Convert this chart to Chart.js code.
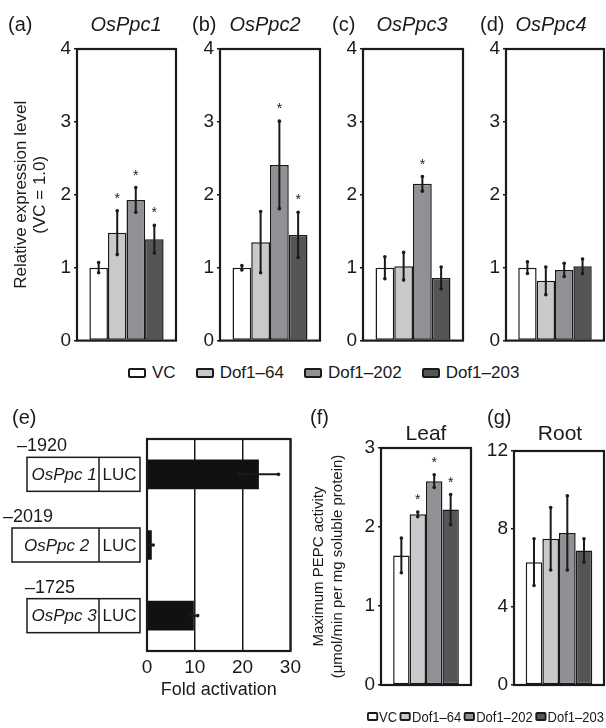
<!DOCTYPE html>
<html>
<head>
<meta charset="utf-8">
<script src="https://cdn.jsdelivr.net/npm/chart.js@4.4.1/dist/chart.umd.min.js"></script>
<style>
  body { margin: 0; background: #fff; }
  #fig { position: relative; width: 606px; height: 728px; overflow: hidden;
         font-family: "Liberation Sans", Arial, sans-serif; color: #1a1a1a; }
  #fig canvas { position: absolute; }
  .t { position: absolute; white-space: nowrap; }
  .legend { position: absolute; display: flex; align-items: center; white-space: nowrap; transform-origin: left center; }
  .legend span.box { display: inline-block; box-sizing: border-box; border: 2px solid #1a1a1a; border-radius: 2px; }
</style>
</head>
<body>
<div id="fig"></div>
<script>
// groups shared by every bar panel
const groups = ['VC', 'Dof1–64', 'Dof1–202', 'Dof1–203'];
const groupColors = ['#ffffff', '#c8c9cb', '#909195', '#545557'];

// (a)-(d) relative expression, VC = 1.0
const genes = ['OsPpc1', 'OsPpc2', 'OsPpc3', 'OsPpc4'];
const ppc1Mean = [1.00, 1.48, 1.93, 1.39];
const ppc1Err  = [0.07, 0.30, 0.17, 0.19];
const ppc1Sig  = [false, true, true, true];
const ppc2Mean = [1.00, 1.35, 2.41, 1.45];
const ppc2Err  = [0.03, 0.42, 0.60, 0.31];
const ppc2Sig  = [false, false, true, true];
const ppc3Mean = [1.00, 1.02, 2.15, 0.86];
const ppc3Err  = [0.15, 0.19, 0.10, 0.15];
const ppc3Sig  = [false, false, true, false];
const ppc4Mean = [1.00, 0.82, 0.97, 1.02];
const ppc4Err  = [0.08, 0.19, 0.09, 0.10];
const ppc4Sig  = [false, false, false, false];
const exprTicks = [0, 1, 2, 3, 4];

// (e) transient assay
const constructs = ['OsPpc 1', 'OsPpc 2', 'OsPpc 3'];
const promoterLen = ['–1920', '–2019', '–1725'];
const foldMean = [23.4, 1.0, 9.8];
const foldErr  = [4.1, 0.3, 0.8];
const foldTicks = [0, 10, 20, 30];

// (f) leaf, (g) root PEPC activity
const leafMean = [1.64, 2.16, 2.58, 2.22];
const leafErr  = [0.22, 0.03, 0.08, 0.19];
const leafSig  = [false, true, true, true];
const leafTicks = [0, 1, 2, 3];
const rootMean = [6.3, 7.5, 7.8, 6.9];
const rootErr  = [1.2, 1.6, 1.9, 0.6];
const rootSig  = [false, false, false, false];
const rootTicks = [0, 4, 8, 12];

const FONT = '"Liberation Sans", Arial, sans-serif';
const INK = '#1a1a1a';
Chart.defaults.font.family = FONT;
Chart.defaults.color = INK;

const fig = document.getElementById('fig');

function place(id, x, y, w, h) {
  const c = document.createElement('canvas');
  c.id = id;
  c.width = w; c.height = h;
  c.style.left = x + 'px'; c.style.top = y + 'px';
  c.style.width = w + 'px'; c.style.height = h + 'px';
  fig.appendChild(c);
  return c;
}

// text placed by the centre of its capitals
function addText(str, x, y, size, extra = {}) {
  const d = document.createElement('div');
  d.className = 't';
  d.textContent = str;
  d.style.fontSize = size + 'px';
  d.style.lineHeight = size + 'px';
  d.style.top = (y - 0.49 * size) + 'px';
  if (extra.italic) d.style.fontStyle = 'italic';
  if (extra.center) { d.style.left = x + 'px'; d.style.transform = 'translateX(-50%)'; }
  else d.style.left = x + 'px';
  fig.appendChild(d);
  return d;
}

function addLegend(x, y, size, boxW, boxH, gap, inner, squeeze = 1) {
  const l = document.createElement('div');
  l.className = 'legend';
  l.style.left = x + 'px';
  l.style.top = (y - 0.6 * size) + 'px';
  l.style.fontSize = size + 'px';
  l.style.lineHeight = (1.2 * size) + 'px';
  l.style.gap = gap + 'px';
  if (squeeze !== 1) l.style.transform = 'scaleX(' + squeeze + ')';
  groups.forEach((g, i) => {
    const item = document.createElement('span');
    item.style.display = 'flex'; item.style.alignItems = 'center';
    const b = document.createElement('span');
    b.className = 'box';
    b.style.width = boxW + 'px'; b.style.height = boxH + 'px';
    b.style.background = groupColors[i];
    b.style.marginRight = inner + 'px';
    item.appendChild(b);
    item.appendChild(document.createTextNode(g));
    l.appendChild(item);
  });
  fig.appendChild(l);
}

const framePlugin = {
  id: 'frame',
  afterDatasetsDraw(chart) {
    const { ctx, chartArea: a } = chart;
    ctx.save();
    ctx.strokeStyle = INK;
    ctx.lineWidth = 2.2;
    ctx.strokeRect(a.left, a.top, a.right - a.left, a.bottom - a.top);
    ctx.restore();
  }
};

const errorPlugin = {
  id: 'errorBars',
  afterDatasetsDraw(chart) {
    const ctx = chart.ctx;
    const horiz = chart.options.indexAxis === 'y';
    const vs = horiz ? chart.scales.x : chart.scales.y;
    ctx.save();
    ctx.strokeStyle = INK; ctx.fillStyle = INK; ctx.lineWidth = 2;
    chart.data.datasets.forEach((ds, di) => {
      chart.getDatasetMeta(di).data.forEach((bar, i) => {
        const v = ds.data[i], e = ds.err[i];
        const p1 = vs.getPixelForValue(v - e), p2 = vs.getPixelForValue(v + e);
        const pts = horiz ? [[p1, bar.y], [p2, bar.y]] : [[bar.x, p1], [bar.x, p2]];
        ctx.beginPath();
        ctx.moveTo(pts[0][0], pts[0][1]);
        ctx.lineTo(pts[1][0], pts[1][1]);
        ctx.stroke();
        pts.forEach(p => { ctx.beginPath(); ctx.arc(p[0], p[1], 1.8, 0, Math.PI * 2); ctx.fill(); });
        if (ds.sig && ds.sig[i]) {
          ctx.font = '14px ' + FONT;
          ctx.textAlign = 'center';
          ctx.textBaseline = 'alphabetic';
          ctx.fillText('*', bar.x, p2 - 8);
        }
      });
    });
    ctx.restore();
  }
};

function barPanel(id, box, axisW, means, errs, sigs, ticks, pct, yTitle) {
  const c = place(id, box.x, box.y, box.w, box.h);
  return new Chart(c, {
    type: 'bar',
    data: {
      labels: [''],
      datasets: groups.map((g, i) => ({
        label: g,
        data: [means[i]],
        err: [errs[i]],
        sig: [sigs[i]],
        backgroundColor: groupColors[i],
        borderColor: INK,
        borderWidth: 1.5,
        borderSkipped: false,
        categoryPercentage: pct,
        barPercentage: 1
      }))
    },
    options: {
      responsive: false,
      animation: false,
      events: [],
      layout: { padding: box.pad },
      plugins: { legend: { display: false }, tooltip: { enabled: false } },
      scales: {
        x: { display: false },
        y: {
          min: ticks[0],
          max: ticks[ticks.length - 1],
          afterFit: s => { s.width = axisW; },
          afterBuildTicks: s => { s.ticks = ticks.map(v => ({ value: v })); },
          ticks: { font: { size: 19 }, padding: 3, color: INK },
          grid: { drawOnChartArea: false, tickLength: 3, color: INK, lineWidth: 1.5 },
          border: { display: false },
          title: yTitle || { display: false }
        }
      }
    },
    plugins: [errorPlugin, framePlugin]
  });
}

// ---- (a)-(d)
const exprTitle = {
  display: true,
  text: ['Relative expression level', '(VC = 1.0)'],
  font: { size: 17, lineHeight: 1.12 },
  padding: { top: 11.5, bottom: 0 },
  color: INK
};
barPanel('pa', { x: 0,   y: 0, w: 180, h: 355, pad: { top: 49, right: 4, bottom: 14, left: 0 } }, 77, ppc1Mean, ppc1Err, ppc1Sig, exprTicks, 0.75, exprTitle);
barPanel('pb', { x: 190, y: 0, w: 134, h: 355, pad: { top: 49, right: 4, bottom: 14, left: 0 } }, 30, ppc2Mean, ppc2Err, ppc2Sig, exprTicks, 0.75);
barPanel('pc', { x: 333, y: 0, w: 134, h: 355, pad: { top: 49, right: 4, bottom: 14, left: 0 } }, 30, ppc3Mean, ppc3Err, ppc3Sig, exprTicks, 0.75);
barPanel('pd', { x: 476, y: 0, w: 130, h: 355, pad: { top: 49, right: 2, bottom: 14, left: 0 } }, 30, ppc4Mean, ppc4Err, ppc4Sig, exprTicks, 0.75);

const panelTags = ['(a)', '(b)', '(c)', '(d)'];
const tagX = [8, 192, 332, 480];
const geneX = [126, 265, 412, 551];
genes.forEach((g, i) => {
  addText(panelTags[i], tagX[i], 24, 20);
  addText(g, geneX[i], 24, 20, { italic: true, center: true });
});
addLegend(128, 373, 17, 18, 10, 20, 6);

// ---- (e)
const boxLeft = [27, 12, 27];
const lenLeft = [17, 3, 25];
const constructPlugin = {
  id: 'constructs',
  afterDraw(chart) {
    const { ctx } = chart;
    const ys = chart.scales.y;
    ctx.save();
    ctx.strokeStyle = INK; ctx.fillStyle = INK; ctx.lineWidth = 1.5;
    ctx.textBaseline = 'middle';
    constructs.forEach((name, i) => {
      const cy = ys.getPixelForValue(i);
      const l = boxLeft[i], top = cy - 17, div = 99, r = 140;
      ctx.strokeRect(l, top, r - l, 34);
      ctx.beginPath(); ctx.moveTo(div, top); ctx.lineTo(div, top + 34); ctx.stroke();
      ctx.textAlign = 'center';
      ctx.font = 'italic 17px ' + FONT;
      ctx.fillText(name, (l + div) / 2 + 1, cy + 1);
      ctx.font = '17px ' + FONT;
      ctx.fillText('LUC', (div + r) / 2, cy + 1);
      ctx.textAlign = 'left';
      ctx.font = '18px ' + FONT;
      ctx.fillText(promoterLen[i], lenLeft[i], top - 11);
    });
    ctx.restore();
  }
};
new Chart(place('pe', 0, 400, 306, 305), {
  type: 'bar',
  data: {
    labels: constructs,
    datasets: [{
      data: foldMean,
      err: foldErr,
      backgroundColor: '#111111',
      borderWidth: 0,
      categoryPercentage: 1,
      barPercentage: 0.42
    }]
  },
  options: {
    indexAxis: 'y',
    responsive: false,
    animation: false,
    events: [],
    layout: { padding: { top: 39, right: 13, bottom: 0, left: 0 } },
    plugins: { legend: { display: false }, tooltip: { enabled: false } },
    scales: {
      y: {
        afterFit: s => { s.width = 147; },
        ticks: { display: false },
        grid: { display: false },
        border: { display: false }
      },
      x: {
        min: foldTicks[0],
        max: foldTicks[foldTicks.length - 1],
        afterFit: s => { s.height = 54; },
        afterBuildTicks: s => { s.ticks = foldTicks.map(v => ({ value: v })); },
        ticks: { font: { size: 19 }, padding: 5, color: INK },
        grid: { color: INK, lineWidth: 1.5, drawTicks: false },
        border: { display: false },
        title: { display: true, text: 'Fold activation', font: { size: 18 }, padding: { top: 0, bottom: 4 }, color: INK }
      }
    }
  },
  plugins: [framePlugin, errorPlugin, constructPlugin]
});
addText('(e)', 12, 417, 20);

// ---- (f), (g)
const pepcTitle = {
  display: true,
  text: ['Maximum PEPC activity', '(μmol/min per mg soluble protein)'],
  font: { size: 15, lineHeight: 1.27 },
  padding: { top: 9.5, bottom: 0 },
  color: INK
};
barPanel('pf', { x: 300, y: 400, w: 175, h: 300, pad: { top: 48, right: 4, bottom: 15, left: 0 } }, 81, leafMean, leafErr, leafSig, leafTicks, 0.73, pepcTitle);
barPanel('pg', { x: 478, y: 400, w: 128, h: 300, pad: { top: 51, right: 2, bottom: 15, left: 0 } }, 36, rootMean, rootErr, rootSig, rootTicks, 0.74);
addText('(f)', 310, 417, 20);
addText('Leaf', 426, 432, 21, { center: true });
addText('(g)', 487, 417, 20);
addText('Root', 560, 432, 21, { center: true });
addLegend(367, 717, 14, 12, 9, 3, 1, 0.93);
</script>
</body>
</html>
